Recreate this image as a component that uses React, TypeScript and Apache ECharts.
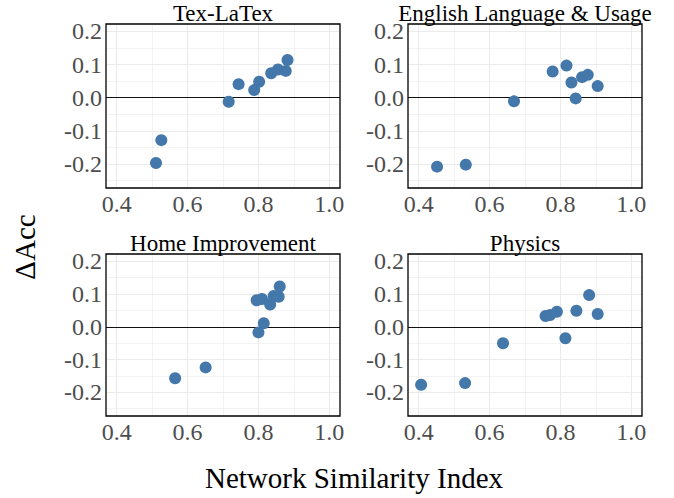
import React, { useEffect, useRef } from "react";
import * as echarts from "echarts";

const panelTitles = ["Tex-LaTex", "English Language & Usage", "Home Improvement", "Physics"];

const texX = [0.511, 0.526, 0.716, 0.744, 0.788, 0.802, 0.836, 0.855, 0.877, 0.882];
const texY = [-0.197, -0.128, -0.012, 0.041, 0.023, 0.048, 0.074, 0.085, 0.081, 0.114];

const englishX = [0.452, 0.533, 0.669, 0.778, 0.817, 0.831, 0.843, 0.861, 0.877, 0.905];
const englishY = [-0.208, -0.202, -0.011, 0.079, 0.097, 0.046, -0.002, 0.062, 0.069, 0.035];

const homeX = [0.565, 0.651, 0.8, 0.815, 0.795, 0.81, 0.833, 0.843, 0.857, 0.86];
const homeY = [-0.157, -0.124, -0.017, 0.011, 0.081, 0.085, 0.068, 0.094, 0.092, 0.123];

const physicsX = [0.407, 0.531, 0.638, 0.758, 0.771, 0.79, 0.814, 0.845, 0.881, 0.905];
const physicsY = [-0.177, -0.172, -0.05, 0.033, 0.036, 0.046, -0.035, 0.049, 0.097, 0.039];

const xTicks = [0.4, 0.6, 0.8, 1.0];
const xMinorTicks = [0.5, 0.7, 0.9];
const yTicks = [-0.2, -0.1, 0.0, 0.1, 0.2];
const yMinorTicks = [-0.25, -0.15, -0.05, 0.05, 0.15];
const xRange = [0.37, 1.03];
const yRange = [-0.2725, 0.2225];

const xLabel = "Network Similarity Index";
const yLabel = "ΔAcc";

const panelsX = [texX, englishX, homeX, physicsX];
const panelsY = [texY, englishY, homeY, physicsY];

const gridBoxes = [
  { left: 106, top: 24, width: 234, height: 164 },
  { left: 408, top: 24, width: 234, height: 164 },
  { left: 106, top: 254, width: 234, height: 162 },
  { left: 408, top: 254, width: 234, height: 162 },
];
const titleYs = [13, 13, 243, 243];

const FONT = "Liberation Serif";
const DOT = "#4477AA";
const GRID_C = "#EBEBEB";

export default function App() {
  const ref = useRef<HTMLDivElement>(null);
  useEffect(() => {
    if (!ref.current) return;
    const chart = echarts.init(ref.current, undefined, { renderer: "svg" });

    const grids = gridBoxes.map((g) => ({
      ...g,
      show: true,
      borderColor: "#000",
      borderWidth: 1.3,
      backgroundColor: "transparent",
      z: 2,
      containLabel: false,
    }));

    const labelStyle = {
      fontSize: 24,
      color: "#4D4D4D",
      fontFamily: FONT,
    };

    const xAxes = gridBoxes.map((_, i) => ({
      type: "value",
      gridIndex: i,
      min: xRange[0],
      max: xRange[1],
      axisLine: { show: false },
      axisTick: { show: false },
      splitLine: { show: false },
      axisLabel: {
        ...labelStyle,
        margin: 4,
        customValues: xTicks,
        formatter: (v: number) => v.toFixed(1),
      },
    }));

    const yAxes = gridBoxes.map((_, i) => ({
      type: "value",
      gridIndex: i,
      min: yRange[0],
      max: yRange[1],
      axisLine: { show: false },
      axisTick: { show: false },
      splitLine: { show: false },
      axisLabel: {
        ...labelStyle,
        margin: 4,
        customValues: yTicks,
        formatter: (v: number) => v.toFixed(1),
      },
    }));

    const gridLineData = [
      ...xMinorTicks.map((v) => ({ xAxis: v, lineStyle: { color: GRID_C, width: 0.6, type: "solid" } })),
      ...yMinorTicks.map((v) => ({ yAxis: v, lineStyle: { color: GRID_C, width: 0.6, type: "solid" } })),
      ...xTicks.map((v) => ({ xAxis: v, lineStyle: { color: GRID_C, width: 1.1, type: "solid" } })),
      ...yTicks.map((v) => ({ yAxis: v, lineStyle: { color: GRID_C, width: 1.1, type: "solid" } })),
      { yAxis: 0, lineStyle: { color: "#111", width: 1.2, type: "solid" } },
    ];

    const series = panelsX.map((xs, i) => ({
      type: "scatter",
      xAxisIndex: i,
      yAxisIndex: i,
      z: 3,
      symbol: "circle",
      symbolSize: 12,
      itemStyle: { color: DOT, opacity: 1 },
      data: xs.map((x, j) => [x, panelsY[i][j]]),
      markLine: {
        z: 1,
        silent: true,
        symbol: ["none", "none"],
        label: { show: false },
        emphasis: { disabled: true },
        data: gridLineData,
      },
    }));

    const graphics: any[] = panelTitles.map((t, i) => ({
      type: "text",
      x: gridBoxes[i].left + gridBoxes[i].width / 2,
      y: titleYs[i],
      style: {
        text: t,
        fontSize: 23,
        fontFamily: FONT,
        fill: "#000",
        textAlign: "center",
        textVerticalAlign: "middle",
      },
    }));
    graphics.push({
      type: "text",
      x: 354,
      y: 478,
      style: {
        text: xLabel,
        fontSize: 29,
        fontFamily: FONT,
        fill: "#000",
        textAlign: "center",
        textVerticalAlign: "middle",
      },
    });
    graphics.push({
      type: "text",
      x: 25,
      y: 247,
      rotation: Math.PI / 2,
      style: {
        text: yLabel,
        fontSize: 29,
        fontFamily: FONT,
        fill: "#000",
        textAlign: "center",
        textVerticalAlign: "middle",
      },
    });

    chart.setOption({
      animation: false,
      backgroundColor: "#fff",
      grid: grids,
      xAxis: xAxes,
      yAxis: yAxes,
      series,
      graphic: graphics,
    } as any);

    return () => chart.dispose();
  }, []);

  return (
    <div
      ref={ref}
      style={{ position: "absolute", left: 0, top: 0, width: 674, height: 498 }}
    />
  );
}
